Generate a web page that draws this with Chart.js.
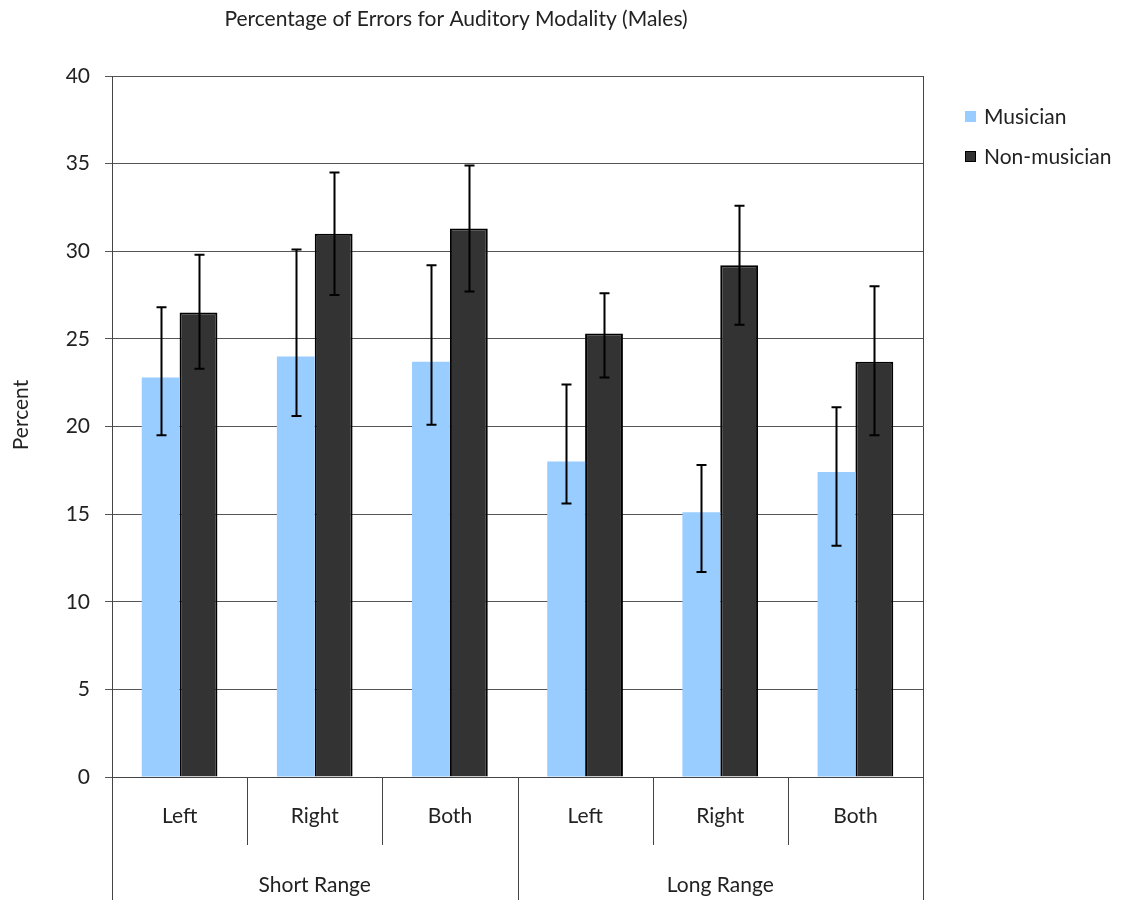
<!DOCTYPE html>
<html><head><meta charset="utf-8">
<script src="https://cdn.jsdelivr.net/npm/chart.js@4.4.1/dist/chart.umd.min.js"></script>
<style>body{margin:0;background:#fff}</style>
</head><body>
<canvas id="c" width="1127" height="900"></canvas>
<script>
const subLabels = ['Left','Right','Both','Left','Right','Both'];
const groupLabels = ['Short Range','Long Range'];
const musician   = [22.8, 24.0, 23.7, 18.0, 15.1, 17.4];
const musicianLo = [19.5, 20.6, 20.1, 15.6, 11.7, 13.2];
const musicianHi = [26.8, 30.1, 29.2, 22.4, 17.8, 21.1];
const nonMus     = [26.5, 31.0, 31.3, 25.3, 29.2, 23.7];
const nonMusLo   = [23.3, 27.5, 27.7, 22.8, 25.8, 19.5];
const nonMusHi   = [29.8, 34.5, 34.9, 27.6, 32.6, 28.0];
const yMin = 0, yMax = 40, yStep = 5;

const FONT = 'Lato, "Open Sans", sans-serif';
const FS = 21;
const TXT = '#222';

const extras = {
  id: 'extras',
  afterDatasetsDraw(chart){
    const ctx = chart.ctx, y = chart.scales.y;
    const errs = [[musicianLo, musicianHi], [nonMusLo, nonMusHi]];
    ctx.save();
    ctx.strokeStyle = '#000'; ctx.lineWidth = 2;
    chart.data.datasets.forEach((ds, i) => {
      chart.getDatasetMeta(i).data.forEach((bar, k) => {
        const x = Math.round(bar.x) + 0.5;
        const lo = y.getPixelForValue(errs[i][0][k]);
        const hi = y.getPixelForValue(errs[i][1][k]);
        ctx.beginPath();
        ctx.moveTo(x, lo); ctx.lineTo(x, hi);
        ctx.moveTo(x - 5, lo); ctx.lineTo(x + 5, lo);
        ctx.moveTo(x - 5, hi); ctx.lineTo(x + 5, hi);
        ctx.stroke();
      });
    });
    ctx.restore();
  },
  afterDraw(chart){
    const ctx = chart.ctx, x = chart.scales.x, a = chart.chartArea;
    const n = subLabels.length, step = (a.right - a.left) / n;
    ctx.save();
    // category box lines
    ctx.strokeStyle = '#444'; ctx.lineWidth = 1;
    for (let k = 0; k <= n; k++) {
      const px = Math.round(a.left + step * k) + 0.5;
      const major = k % 3 === 0;
      ctx.beginPath();
      ctx.moveTo(px, a.bottom);
      ctx.lineTo(px, major ? 900 : a.bottom + 68);
      ctx.stroke();
    }
    // right border of plot
    ctx.beginPath();
    ctx.moveTo(Math.round(a.right) + 0.5, a.top);
    ctx.lineTo(Math.round(a.right) + 0.5, a.bottom);
    ctx.stroke();
    ctx.fillStyle = TXT;
    ctx.font = FS + 'px ' + FONT;
    ctx.textAlign = 'center'; ctx.textBaseline = 'middle';
    groupLabels.forEach((g, i) => {
      const cx = (x.getPixelForValue(i * 3) + x.getPixelForValue(i * 3 + 2)) / 2;
      ctx.fillText(g, cx, 885);
    });
    // title
    ctx.fillText('Percentage of Errors for Auditory Modality (Males)', 456, 19);
    // y title
    ctx.save();
    ctx.translate(21, 415); ctx.rotate(-Math.PI / 2);
    ctx.fillText('Percent', 0, 0);
    ctx.restore();
    // legend
    ctx.textAlign = 'left';
    chart.data.datasets.forEach((ds, i) => {
      const ly = 117 + i * 40;
      ctx.fillStyle = ds.backgroundColor;
      ctx.fillRect(965, ly - 6, 11, 11);
      if (ds.borderWidth) {
        ctx.strokeStyle = '#000'; ctx.lineWidth = 1;
        ctx.strokeRect(965.5, ly - 5.5, 10, 10);
      }
      ctx.fillStyle = TXT;
      ctx.fillText(ds.label, 984, ly);
    });
    ctx.restore();
  }
};

new Chart(document.getElementById('c'), {
  type: 'bar',
  data: {
    labels: subLabels,
    datasets: [
      {label: 'Musician', data: musician, backgroundColor: '#99ccff', borderWidth: 0},
      {label: 'Non-musician', data: nonMus, backgroundColor: '#333333', borderColor: '#000', borderWidth: 2}
    ]
  },
  options: {
    responsive: false, animation: false,
    layout: {padding: {left: 0, top: 76, right: 204, bottom: 0}},
    datasets: {bar: {categoryPercentage: 0.56, barPercentage: 1}},
    plugins: {legend: {display: false}, title: {display: false}, tooltip: {enabled: false}},
    scales: {
      x: {
        grid: {display: false, drawTicks: false},
        border: {color: '#444', width: 1},
        ticks: {padding: 27, color: TXT, font: {family: FONT, size: FS}, maxRotation: 0},
        afterFit(s){ s.height = 123; }
      },
      y: {
        min: yMin, max: yMax,
        ticks: {stepSize: yStep, padding: 15, color: TXT, font: {family: FONT, size: FS}},
        grid: {color: '#555', tickLength: 7, lineWidth: 1},
        border: {color: '#444', width: 1},
        afterFit(s){ s.width = 112; }
      }
    }
  },
  plugins: [extras]
});
</script>
</body></html>
